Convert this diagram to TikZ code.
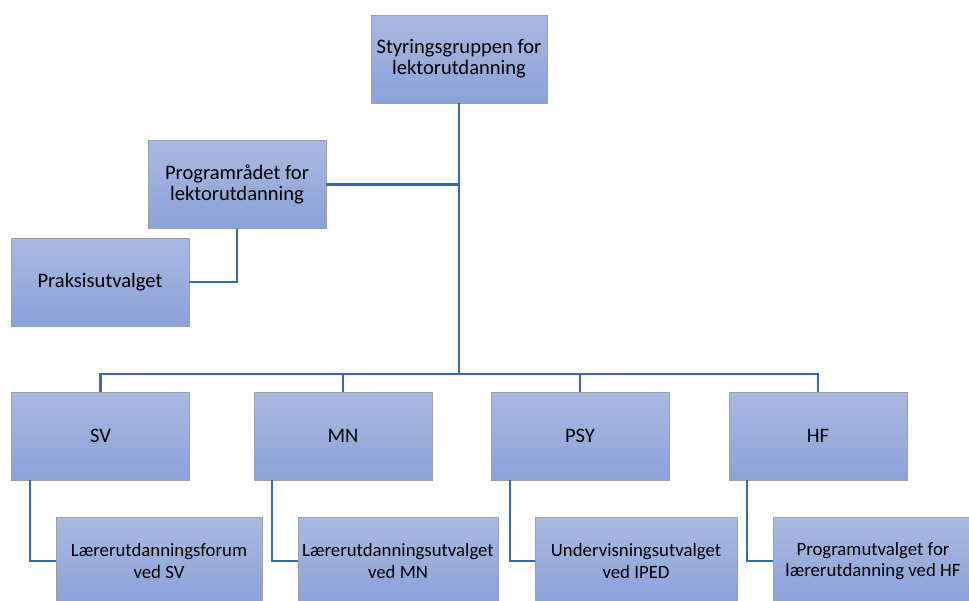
\documentclass[tikz,border=0pt]{standalone}
\usepackage{fontspec}
\setmainfont{Carlito}
\usetikzlibrary{positioning}
\definecolor{boxtop}{HTML}{AAB9E2}
\definecolor{boxbot}{HTML}{8AA2D8}
\definecolor{boxline}{HTML}{9A9FAA}
\definecolor{linkblue}{HTML}{3D66B0}
\tikzstyle{every node}=[font=\fontsize{11.7}{12}\selectfont, align=center, inner sep=2pt]
\tikzstyle{unit}=[draw=boxline, top color=boxtop, bottom color=boxbot, minimum width=3.56cm, minimum height=1.76cm]
\tikzstyle{subunit}=[unit, font=\fontsize{10.7}{12.2}\selectfont]
\tikzstyle{link}=[draw=linkblue, line width=1.3pt]

\begin{document}
\begin{tikzpicture}[x=0.02cm, y=-0.02cm]
		\clip (0,0) rectangle (969,600);
		\fill[white] (0,0) rectangle (969,600);
		\node[unit,minimum width=3.52cm] (styr) at (459,59) {Styringsgruppen for\\lektorutdanning};
		\node[unit] (prog) at (237,184.5) {Programrådet for\\lektorutdanning};
		\node[unit] (praks) at (100,282) {Praksisutvalget};
		\node[unit] (sv) at (100.5,436) {SV};
		\node[unit] (mn) at (343,436) {MN};
		\node[unit] (psy) at (580,436) {PSY};
		\node[unit] (hf) at (818,436) {HF};
		\node[subunit,minimum width=4.12cm] (svsub) at (159,561) {Lærerutdanningsforum\\ved SV};
		\node[subunit,minimum width=4cm] (mnsub) at (398,561) {Lærerutdanningsutvalget\\ved MN};
		\node[subunit,minimum width=4.04cm] (psysub) at (636,561) {Undervisningsutvalget\\ved IPED};
		\node[subunit,minimum width=4cm] (hfsub) at (873,561) {Programutvalget for\\lærerutdanning ved HF};
		\coordinate (bus) at (459,374);
		\draw[link] (styr) -- (bus);
		\draw[link] (prog.east) -- (prog.east -| styr.south);
		\draw[link] (prog.south) |- (praks.east);
		\draw[link] (sv.north) |- (bus);
		\draw[link] (mn.north) |- (bus);
		\draw[link] (psy.north) |- (bus);
		\draw[link] (hf.north) |- (bus);
		\draw[link] ([xshift=.38cm]sv.south west) |- (svsub.west);
		\draw[link] ([xshift=.36cm]mn.south west) |- (mnsub.west);
		\draw[link] ([xshift=.38cm]psy.south west) |- (psysub.west);
		\draw[link] ([xshift=.36cm]hf.south west) |- (hfsub.west);
	\end{tikzpicture}
\end{document}
